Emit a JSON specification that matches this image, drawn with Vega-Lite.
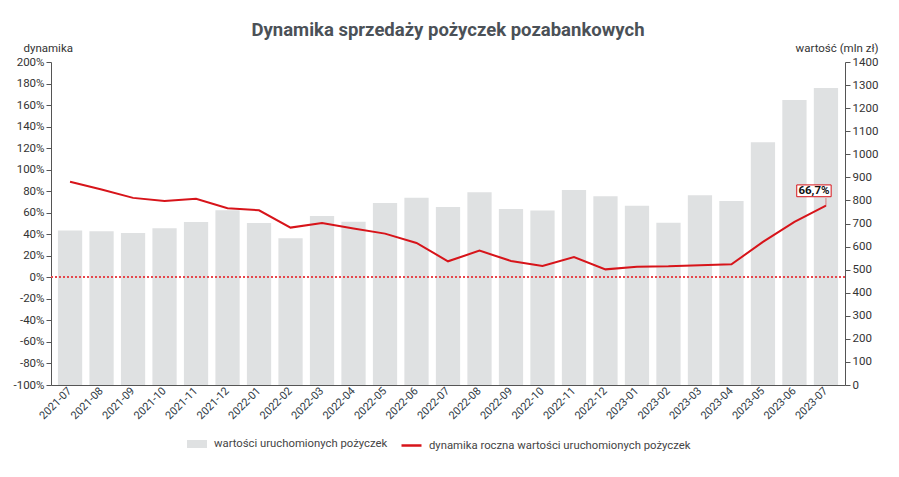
{
  "$schema": "https://vega.github.io/schema/vega-lite/v6.json",
  "width": 794,
  "height": 323,
  "autosize": "none",
  "padding": {"left": 51, "top": 62, "right": 54, "bottom": 92},
  "background": "white",
  "title": {
    "text": "Dynamika sprzedaży pożyczek pozabankowych",
    "fontSize": 18.5,
    "fontWeight": "bold",
    "color": "#4b5157",
    "anchor": "middle",
    "offset": 3
  },
  "data": {
    "values": [
      {"miesiac": "2021-07", "wartosc": 670, "dynamika": 88.7},
      {"miesiac": "2021-08", "wartosc": 666, "dynamika": 81.6},
      {"miesiac": "2021-09", "wartosc": 659, "dynamika": 73.8},
      {"miesiac": "2021-10", "wartosc": 679, "dynamika": 71.0},
      {"miesiac": "2021-11", "wartosc": 706, "dynamika": 72.9},
      {"miesiac": "2021-12", "wartosc": 757, "dynamika": 64.2},
      {"miesiac": "2022-01", "wartosc": 702, "dynamika": 62.3},
      {"miesiac": "2022-02", "wartosc": 636, "dynamika": 46.2},
      {"miesiac": "2022-03", "wartosc": 732, "dynamika": 50.5},
      {"miesiac": "2022-04", "wartosc": 708, "dynamika": 45.3},
      {"miesiac": "2022-05", "wartosc": 789, "dynamika": 40.6},
      {"miesiac": "2022-06", "wartosc": 812, "dynamika": 31.9},
      {"miesiac": "2022-07", "wartosc": 772, "dynamika": 14.9},
      {"miesiac": "2022-08", "wartosc": 835, "dynamika": 24.8},
      {"miesiac": "2022-09", "wartosc": 763, "dynamika": 15.2},
      {"miesiac": "2022-10", "wartosc": 756, "dynamika": 10.5},
      {"miesiac": "2022-11", "wartosc": 845, "dynamika": 18.9},
      {"miesiac": "2022-12", "wartosc": 818, "dynamika": 7.4},
      {"miesiac": "2023-01", "wartosc": 777, "dynamika": 9.9},
      {"miesiac": "2023-02", "wartosc": 703, "dynamika": 10.2},
      {"miesiac": "2023-03", "wartosc": 822, "dynamika": 11.2},
      {"miesiac": "2023-04", "wartosc": 798, "dynamika": 12.1},
      {"miesiac": "2023-05", "wartosc": 1052, "dynamika": 32.9},
      {"miesiac": "2023-06", "wartosc": 1235, "dynamika": 51.5},
      {"miesiac": "2023-07", "wartosc": 1287, "dynamika": 66.7}
    ]
  },
  "encoding": {
    "x": {
      "field": "miesiac",
      "type": "nominal",
      "sort": null,
      "title": null,
      "scale": {"paddingInner": 0.23, "paddingOuter": 0.22},
      "axis": {
        "labelAngle": -45,
        "labelAlign": "right",
        "labelBaseline": "middle",
        "labelPadding": 4,
        "ticks": false,
        "domainColor": "#555555",
        "labelColor": "#2f3a45",
        "labelFontSize": 11
      }
    }
  },
  "layer": [
    {
      "mark": {"type": "bar"},
      "encoding": {
        "y": {
          "field": "wartosc",
          "type": "quantitative",
          "scale": {"domain": [0, 1400]},
          "axis": {
            "orient": "right",
            "values": [0, 100, 200, 300, 400, 500, 600, 700, 800, 900, 1000, 1100, 1200, 1300, 1400],
            "format": "d",
            "title": "wartość (mln zł)",
            "titleAngle": 0,
            "titleAlign": "right",
            "titleBaseline": "alphabetic",
            "titleX": 33,
            "titleY": -11,
            "titleFontWeight": "normal",
            "titleFontSize": 11.5,
            "titleColor": "#333333",
            "grid": false,
            "domainColor": "#555555",
            "tickColor": "#555555",
            "tickSize": 5,
            "labelColor": "#333333",
            "labelFontSize": 11.5
          }
        },
        "color": {
          "datum": "wartości uruchomionych pożyczek",
          "scale": {"range": ["#dfe1e2"]},
          "legend": {
            "title": null,
            "orient": "none",
            "legendX": 136,
            "legendY": 372,
            "padding": 0,
            "symbolType": "M-1,-0.4L1,-0.4L1,0.4L-1,0.4Z",
            "symbolSize": 400,
            "symbolStrokeWidth": 0,
            "labelFontSize": 11.3,
            "labelLimit": 400,
            "labelColor": "#444444",
            "labelOffset": 7
          }
        }
      }
    },
    {
      "mark": {"type": "line", "strokeWidth": 2},
      "encoding": {
        "y": {
          "field": "dynamika",
          "type": "quantitative",
          "scale": {"domain": [-100, 200]},
          "axis": {
            "orient": "left",
            "values": [-100, -80, -60, -40, -20, 0, 20, 40, 60, 80, 100, 120, 140, 160, 180, 200],
            "labelExpr": "datum.value + '%'",
            "title": "dynamika",
            "titleAngle": 0,
            "titleAlign": "left",
            "titleBaseline": "alphabetic",
            "titleX": -28,
            "titleY": -11,
            "titleFontWeight": "normal",
            "titleFontSize": 11.5,
            "titleColor": "#333333",
            "grid": false,
            "domainColor": "#555555",
            "tickColor": "#555555",
            "tickSize": 5,
            "labelColor": "#333333",
            "labelFontSize": 11.5
          }
        },
        "stroke": {
          "datum": "dynamika roczna wartości uruchomionych pożyczek",
          "scale": {"range": ["#d7141a"]},
          "legend": {
            "title": null,
            "orient": "none",
            "legendX": 349,
            "legendY": 372,
            "padding": 0,
            "symbolType": "stroke",
            "symbolSize": 400,
            "symbolStrokeWidth": 2.5,
            "labelFontSize": 11.3,
            "labelLimit": 400,
            "labelColor": "#444444",
            "labelOffset": 6
          }
        }
      }
    },
    {
      "mark": {"type": "rule", "color": "#e8474c", "strokeDash": [2, 2], "strokeWidth": 1},
      "encoding": {
        "y": {"datum": 0, "type": "quantitative", "scale": {"domain": [-100, 200]}, "axis": null},
        "x": {"value": 0},
        "x2": {"value": 794}
      }
    },
    {
      "transform": [{"filter": "datum.miesiac == '2023-07'"}],
      "mark": {
        "type": "point",
        "shape": "M0,-1L0,1",
        "size": 49,
        "yOffset": -3.5,
        "filled": false,
        "stroke": "#d7141a",
        "strokeWidth": 1,
        "strokeDash": [1, 1],
        "opacity": 1
      },
      "encoding": {
        "y": {"field": "dynamika", "type": "quantitative", "scale": {"domain": [-100, 200]}, "axis": null}
      }
    },
    {
      "transform": [{"filter": "datum.miesiac == '2023-07'"}],
      "mark": {
        "type": "point",
        "shape": "M-1,-0.343L1,-0.343L1,0.343L-1,0.343Z",
        "size": 1183,
        "xOffset": -12,
        "yOffset": -14.7,
        "filled": true,
        "fill": "white",
        "stroke": "#d7141a",
        "strokeWidth": 1,
        "opacity": 1
      },
      "encoding": {
        "y": {"field": "dynamika", "type": "quantitative", "scale": {"domain": [-100, 200]}, "axis": null}
      }
    },
    {
      "transform": [
        {"filter": "datum.miesiac == '2023-07'"},
        {"calculate": "replace(format(datum.dynamika, '.1f'), '.', ',') + '%'", "as": "etykieta"}
      ],
      "mark": {
        "type": "text",
        "fontWeight": "bold",
        "fontSize": 11.5,
        "color": "#111111",
        "dx": -12,
        "dy": -14.7,
        "align": "center",
        "baseline": "middle"
      },
      "encoding": {
        "y": {"field": "dynamika", "type": "quantitative", "scale": {"domain": [-100, 200]}, "axis": null},
        "text": {"field": "etykieta"}
      }
    }
  ],
  "resolve": {"scale": {"y": "independent"}},
  "config": {
    "font": "Roboto",
    "view": {"stroke": null},
    "axis": {"labelOverlap": false, "labelBound": false, "labelFlush": false}
  }
}
